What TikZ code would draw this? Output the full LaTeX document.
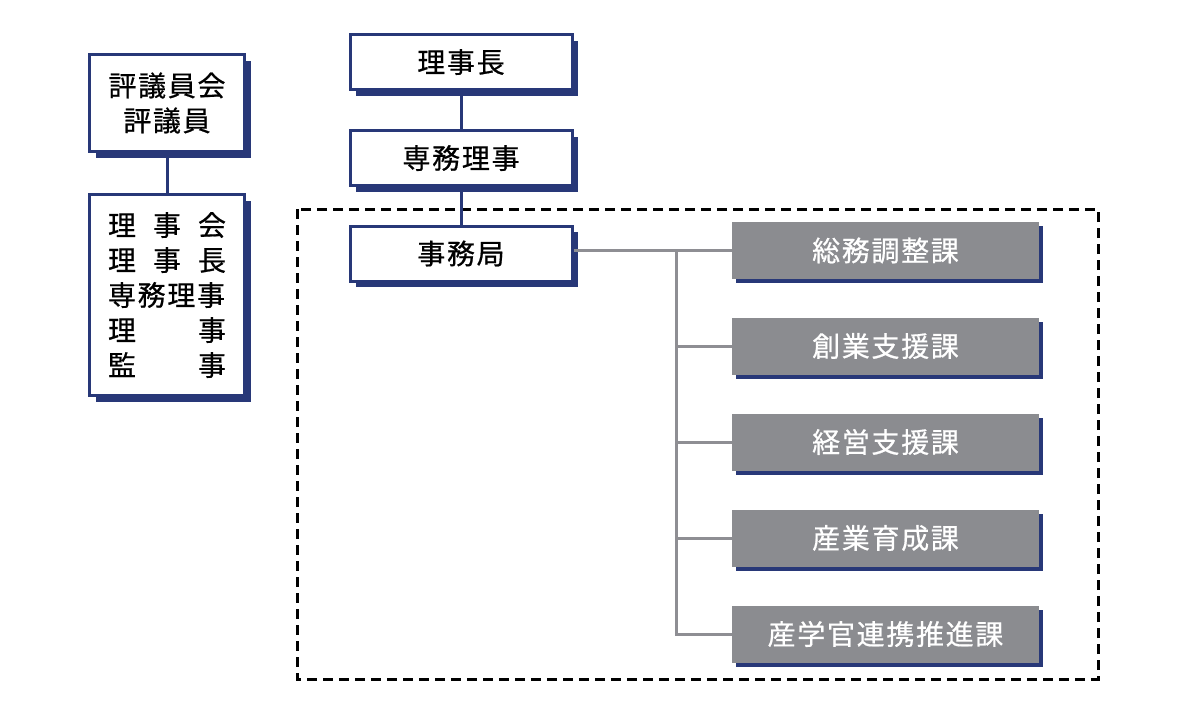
\documentclass[tikz,border=0pt]{standalone}
\usepackage{fontspec}
\setmainfont{Noto Sans CJK JP}[LetterSpace=6, BoldFont={Noto Sans CJK JP}, BoldFeatures={FakeBold=0.6}]
\usepackage{tikz}
\usetikzlibrary{shadows}
\definecolor{navy}{HTML}{283878}
\definecolor{boxgray}{HTML}{8B8C90}
\definecolor{linegray}{HTML}{8E8E93}

\begin{document}
\begin{tikzpicture}[x=0.5pt, y=-0.5pt,
    whitebox/.style={draw=navy, line width=1.5pt, fill=white, align=center, inner sep=0pt,
        drop shadow={shadow xshift=3pt, shadow yshift=-3pt, fill=navy, opacity=1},
        font=\fontsize{14}{17.5}\selectfont\bfseries},
    graybox/.style={fill=boxgray, text=white, inner sep=0pt, minimum width=153.5pt, minimum height=28.5pt,
        drop shadow={shadow xshift=2pt, shadow yshift=-2pt, fill=navy, opacity=1},
        font=\fontsize{14}{17.5}\selectfont\bfseries},
    navyline/.style={draw=navy, line width=1.5pt},
    grayline/.style={draw=linegray, line width=1.5pt}]
    \useasboundingbox (0,0) rectangle (1200,719);

    % jimukyoku frame
    \draw[dash pattern=on 5pt off 3pt, line width=1.5pt] (297,209) rectangle (1098,679);

    \node[whitebox, minimum width=77.5pt, minimum height=48.5pt] (council) at (167,103) {評議員会\\評議員};
    \node[whitebox, minimum width=77.5pt, minimum height=100.5pt] (board) at (167,295)
        {\makebox[59pt][s]{理\hfill 事\hfill 会}\\
         \makebox[59pt][s]{理\hfill 事\hfill 長}\\
         \makebox[59pt][s]{専務理事}\\
         \makebox[59pt][s]{理\hfill 事}\\
         \makebox[59pt][s]{監\hfill 事}};

    \node[whitebox, minimum width=111pt, minimum height=27.5pt] (chair) at (461,62) {理事長};
    \node[whitebox, minimum width=111pt, minimum height=27.5pt] (director) at (461,158) {専務理事};
    \node[whitebox, minimum width=111pt, minimum height=27.5pt] (office) at (461,253.5) {事務局};

    \node[graybox] (soumu) at (885.5,250.5) {総務調整課};
    \node[graybox] (sougyou) at (885.5,346) {創業支援課};
    \node[graybox] (keiei) at (885.5,442) {経営支援課};
    \node[graybox] (sangyou) at (885.5,538) {産業育成課};
    \node[graybox] (sangaku) at (885.5,634) {産学官連携推進課};

    \coordinate (branch) at (676,251);

    \draw[navyline] (council) -- (board);
    \draw[navyline] (chair) -- (director);
    \draw[navyline] (director) -- (office);

    \draw[grayline] (office.east |- soumu) -- (soumu.west);
    \draw[grayline] (branch) |- (sangaku.west);
    \foreach \unit in {sougyou,keiei,sangyou}
        \draw[grayline] (branch |- \unit) -- (\unit.west);
\end{tikzpicture}
\end{document}
